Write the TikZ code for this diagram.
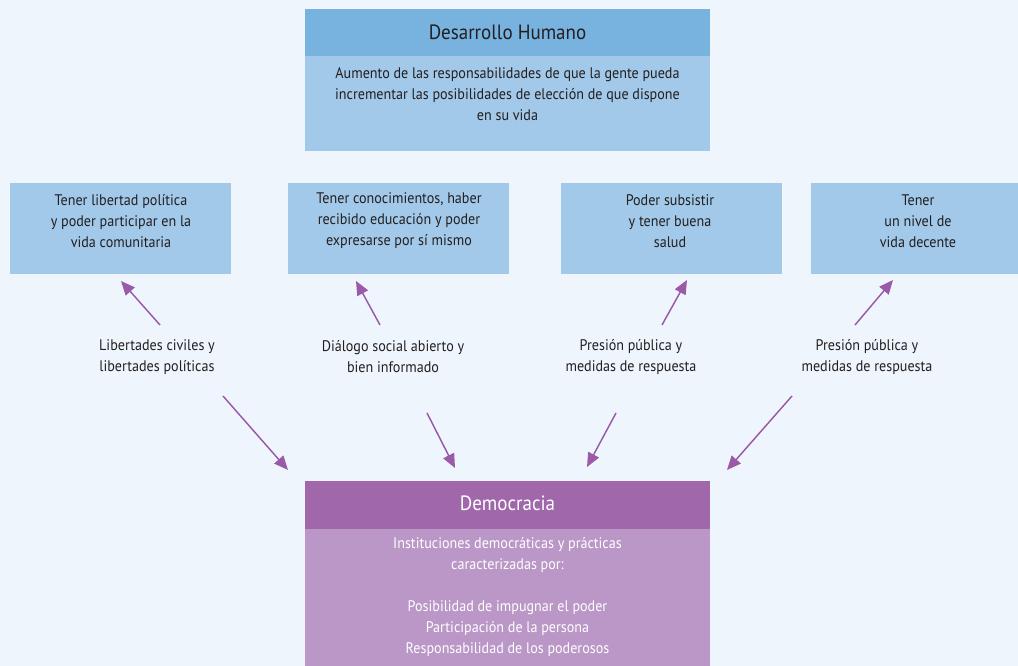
\documentclass[tikz,border=0pt]{standalone}
\usepackage{fontspec}
\setmainfont{PT Sans}[FakeStretch=0.92]
\usetikzlibrary{arrows.meta,positioning}

\definecolor{fondo}{HTML}{EEF5FC}
\definecolor{azulosc}{HTML}{78B2DF}
\definecolor{azulcla}{HTML}{A2C9E9}
\definecolor{moradoosc}{HTML}{A068AB}
\definecolor{moradocla}{HTML}{BA97C7}
\definecolor{flechacol}{HTML}{9B5AA8}
\definecolor{tinta}{HTML}{231F20}

\tikzset{
  titulo/.style={inner sep=0pt, font=\fontsize{15.5}{18}\selectfont},
  texto/.style={align=center, text=tinta, inner sep=0pt, font=\fontsize{11.5}{15.75}\selectfont},
  caja/.style={fill=azulcla, inner sep=0pt, minimum width=165.75pt, minimum height=68.25pt},
  flecha/.style={draw=flechacol, line width=1.1pt, -{Triangle[length=10.5pt,width=9pt]}}
}

\begin{document}
\begin{tikzpicture}[x=0.75pt, y=-0.75pt]
  \fill[fondo] (0,0) rectangle (1018,666);
  \useasboundingbox (0,0) rectangle (1018,666);

  % Desarrollo Humano
  \node[fill=azulosc, inner sep=0pt, minimum width=303.75pt, minimum height=35.25pt] (dh) at (507.5,32.5) {};
  \node[fill=azulcla, inner sep=0pt, minimum width=303.75pt, minimum height=71.25pt] (dhc) at (507.5,103.5) {};
  \node[titulo, text=tinta] (dht) at (507.5,32) {Desarrollo Humano};
  \node[texto] (dhx) at (507.5,94) {Aumento de las responsabilidades de que la gente pueda\\incrementar las posibilidades de elección de que dispone\\en su vida};

  % capacidades
  \node[caja] (c1) at (120.5,228.5) {};
  \node[caja] (c2) at (398.5,228.5) {};
  \node[caja] (c3) at (671.5,228.5) {};
  \node[caja] (c4) at (921.5,228.5) {};
  \node[texto] (t1) at (121,221) {Tener libertad política\\y poder participar en la\\vida comunitaria};
  \node[texto] (t2) at (399,221) {Tener conocimientos, haber\\recibido educación y poder\\expresarse por sí mismo};
  \node[texto] (t3) at (670,221) {Poder subsistir\\y tener buena\\salud};
  \node[texto] (t4) at (918,221) {Tener\\un nivel de\\vida decente};

  % vinculos
  \node[texto] (v1) at (157,357) {Libertades civiles y\\libertades políticas};
  \node[texto] (v2) at (393,357) {Diálogo social abierto y\\bien informado};
  \node[texto] (v3) at (631,357) {Presión pública y\\medidas de respuesta};
  \node[texto] (v4) at (867,357) {Presión pública y\\medidas de respuesta};

  % Democracia
  \node[fill=moradoosc, inner sep=0pt, minimum width=303.75pt, minimum height=36pt] (de) at (507.5,505) {};
  \node[fill=moradocla, inner sep=0pt, minimum width=303.75pt, minimum height=113.25pt] (dec) at (507.5,604.5) {};
  \node[titulo, text=white] (det) at (507.5,503) {Democracia};
  \node[texto, text=white] (dex) at (507.5,597) {Instituciones democráticas y prácticas\\caracterizadas por:\\\mbox{}\\Posibilidad de impugnar el poder\\Participación de la persona\\Responsabilidad de los poderosos};

  % extremos de flechas
  \coordinate (a1) at (160,325);  \coordinate (b1) at (121,281);
  \coordinate (a2) at (380,325);  \coordinate (b2) at (356,281);
  \coordinate (a3) at (662,325);  \coordinate (b3) at (687,280);
  \coordinate (a4) at (855,325);  \coordinate (b4) at (893,280);
  \coordinate (d1) at (223,396);  \coordinate (e1) at (288,470);
  \coordinate (d2) at (427,413);  \coordinate (e2) at (455,468);
  \coordinate (d3) at (616,413);  \coordinate (e3) at (587,467);
  \coordinate (d4) at (792,396);  \coordinate (e4) at (727,470);

  \foreach \i in {1,...,4}{
    \draw[flecha] (a\i) -- (b\i);
    \draw[flecha] (d\i) -- (e\i);
  }
\end{tikzpicture}
\end{document}
